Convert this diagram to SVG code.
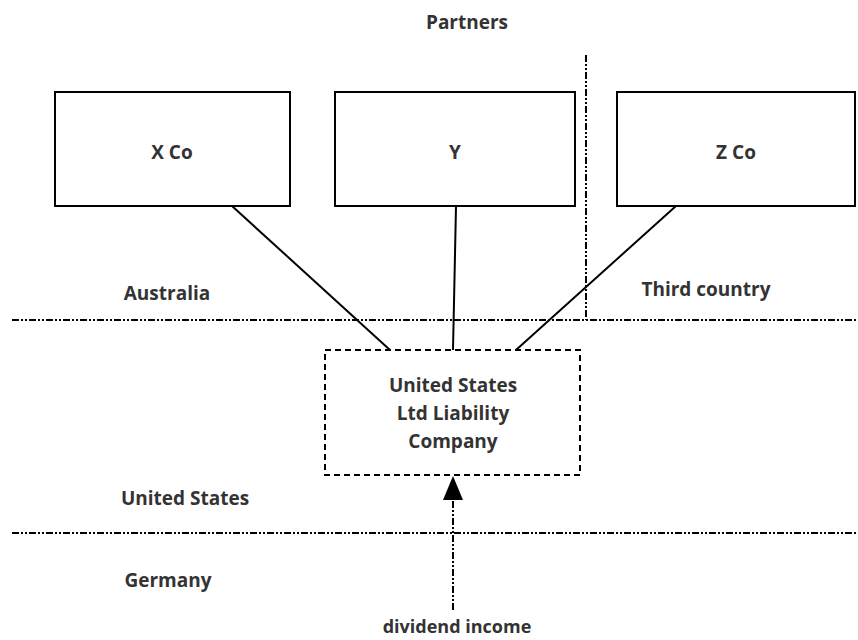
<svg xmlns="http://www.w3.org/2000/svg" width="858" height="640" viewBox="0 0 858 640">
<defs>
<style>
text{font-family:"Open Sans","Noto Sans","Liberation Sans",sans-serif;font-weight:bold;font-size:19px;fill:#333;text-anchor:middle}
.box{fill:#fff;stroke:#000;stroke-width:2}
.dbox{fill:#fff;stroke:#000;stroke-width:2;stroke-dasharray:6 4}
.border{fill:none;stroke:#000;stroke-width:2;stroke-dasharray:7 2 2 2 2 2}
.conn{stroke:#000;stroke-width:2;fill:none}
</style>
</defs>
<rect width="858" height="640" fill="#fff"/>
<g id="borders">
<line class="border" x1="12" y1="320" x2="858" y2="320"/>
<line class="border" x1="12" y1="533" x2="858" y2="533"/>
<line class="border" x1="586" y1="55" x2="586" y2="320"/>
</g>
<g id="labels">
<text x="467" y="29">Partners</text>
<text x="167" y="300">Australia</text>
<text x="706" y="296">Third country</text>
<text x="185" y="505">United States</text>
<text x="168" y="587">Germany</text>
<text x="457" y="633" style="font-size:18px">dividend income</text>
</g>
<g id="connectors">
<line class="conn" x1="232" y1="206" x2="390" y2="350"/>
<line class="conn" x1="456" y1="206" x2="453" y2="350"/>
<line class="conn" x1="676" y1="206" x2="516" y2="350"/>
<line class="border" x1="453" y1="610" x2="453" y2="500"/>
<path d="M443,500 L453,476 L463,500 Z" fill="#000"/>
</g>
<g id="xco">
<rect class="box" x="55" y="92" width="235" height="114"/>
<text x="172" y="159">X Co</text>
</g>
<g id="y">
<rect class="box" x="335" y="92" width="240" height="114"/>
<text x="455" y="159">Y</text>
</g>
<g id="zco">
<rect class="box" x="617" y="92" width="238" height="114"/>
<text x="736" y="159">Z Co</text>
</g>
<g id="llc">
<rect class="dbox" x="325" y="350" width="255" height="125"/>
<text x="453" y="392">United States</text>
<text x="453" y="420">Ltd Liability</text>
<text x="453" y="448">Company</text>
</g>
</svg>
